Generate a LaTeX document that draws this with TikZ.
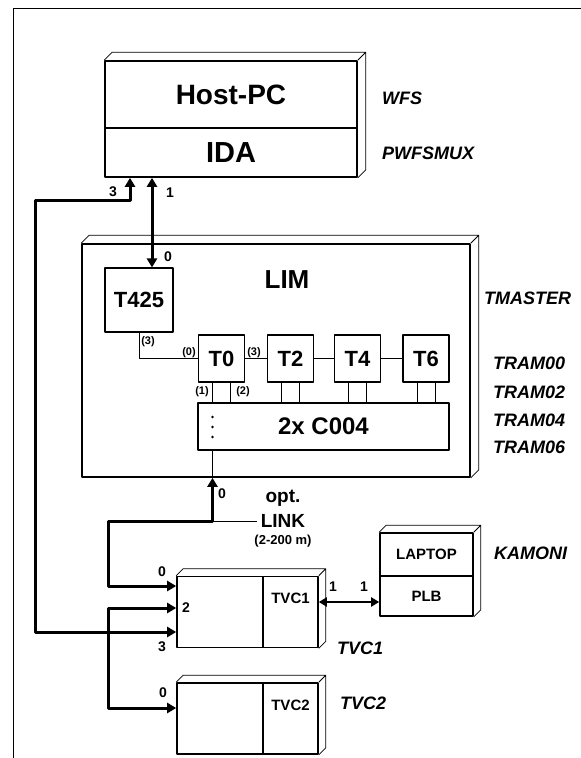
\documentclass[tikz,border=0pt]{standalone}
\usepackage{fontspec}
\setmainfont{Liberation Sans}
\usetikzlibrary{arrows.meta}

\begin{document}
\begin{tikzpicture}[x=1pt, y=-1pt, line join=round, font=\bfseries]
	\tikzset{
		box/.style={draw, line width=1.6pt, inner sep=0pt},
		unit/.style={draw, line width=1.1pt, inner sep=0pt},
		bevel/.style={line width=0.8pt},
		thinl/.style={line width=0.9pt},
		link/.style={line width=3pt, -{Triangle[length=9pt,width=10pt]}},
		both/.style={line width=3pt, {Triangle[length=9pt,width=10pt]}-{Triangle[length=9pt,width=10pt]}},
		tag/.style={font=\fontsize{18}{18}\selectfont\bfseries\itshape, anchor=west, inner sep=0pt},
		port/.style={font=\fontsize{14}{14}\selectfont\bfseries, inner sep=1pt},
		pin/.style={font=\fontsize{11}{11}\selectfont\bfseries, inner sep=1pt}
	}
	\useasboundingbox (0,0) rectangle (581,758);
	\draw [line width=0.8pt] (13,758)--(13,8)--(581,8);

	\node [box, minimum width=252pt, minimum height=67pt, font=\fontsize{28}{28}\selectfont\bfseries] (HPC) at (231,94.5) {Host-PC};
	\node [box, minimum width=252pt, minimum height=49pt, font=\fontsize{29}{29}\selectfont\bfseries] (IDA) at (231,152.5) {IDA};
	\node [box, minimum width=388pt, minimum height=233pt] (LIM) at (276,360.5) {};
	\node [font=\fontsize{26}{26}\selectfont\bfseries] (LIMt) at (287,280) {LIM};
	\node [unit, minimum width=68pt, minimum height=64pt, font=\fontsize{22}{22}\selectfont\bfseries] (T425) at (139,300) {T425};
	\foreach \x/\n in {221.5/0, 290.5/2, 357.5/4, 426/6}{
		\node [unit, minimum width=46pt, minimum height=47pt, font=\fontsize{22}{22}\selectfont\bfseries] (T\n) at (\x,358.5) {T\n};
	}
	\node [unit, minimum width=251pt, minimum height=47pt, font=\fontsize{24}{24}\selectfont\bfseries] (C004) at (323.5,426.5) {2x C004};
	\foreach \i/\y in {1/612, 2/718.5}{
		\node [box, minimum width=86pt, minimum height=71pt] (V\i) at (220,\y) {};
		\node [box, minimum width=55pt, minimum height=71pt] (R\i) at (290.5,\y) {};
		\node [font=\fontsize{15}{15}\selectfont\bfseries] (R\i t) at ([yshift=-23pt]R\i.north) {TVC\i};
	}
	\node [box, minimum width=93pt, minimum height=43pt, font=\fontsize{15}{15}\selectfont\bfseries] (LAP) at (426.5,554.5) {LAPTOP};
	\node [box, minimum width=93pt, minimum height=40pt, font=\fontsize{15}{15}\selectfont\bfseries] (PLB) at (426.5,596) {PLB};

	\foreach \a/\b/\c/\d in {HPC/HPC/IDA/8, LIM/LIM/LIM/8, LAP/LAP/PLB/7, V1/R1/R1/7, V2/R2/R2/7}{
		\draw [bevel] (\a.north west)--++(\d,-\d) -| ([shift={(\d,-\d)}]\c.south east)--(\c.south east)
			(\b.north east)--++(\d,-\d);
	}

	\path (35,200) coordinate (J)
		(108,632) coordinate (B)
		(212.5,521) coordinate (K)
		(108,521) coordinate (M);

	\draw [both] ([xshift=-101pt]IDA.south) |- (J) |- ([yshift=-20pt]V1.west);
	\draw [both] ([xshift=-79pt]IDA.south)--([xshift=13pt]T425.north);
	\draw [link] (B) |- ([yshift=4pt]V1.west);
	\draw [link] (B) |- ([yshift=10.5pt]V2.west);
	\draw [both] (K |- LIM.south)--(K)--(M) |- ([yshift=26pt]V1.west);
	\draw [line width=2.4pt, {Triangle[length=8pt,width=9pt]}-{Triangle[length=8pt,width=9pt]}] ([yshift=-6pt]PLB.west)--([yshift=-6pt]PLB.west -| R1.east);

	\draw [thinl] (T425.south) |- (T0.west);
	\foreach \a/\b in {T0/T2, T2/T4, T4/T6}{
		\draw [thinl] (\a)--(\b);
	}
	\foreach \t in {T0,T2,T4,T6}{
		\foreach \s in {-9pt,9pt}{
			\draw [thinl] ([xshift=\s]\t.south)--([xshift=\s]\t.south |- C004.north);
		}
	}
	\draw [thinl] (K |- C004.south)--(K |- LIM.south);
	\foreach \y in {417,427,437}{
		\fill (212.5,\y) circle (1.3pt);
	}

	\node [port] (p3) at (113,192) {3};
	\node [port] (p1) at (170,193) {1};
	\node [port] (p0) at (168,257) {0};
	\node [pin] (q3) at (148,342) {(3)};
	\node [pin] (q0) at (189,353) {(0)};
	\node [pin] (q3b) at (254,353) {(3)};
	\node [pin] (q1) at (202,392) {(1)};
	\node [pin] (q2) at (243,392) {(2)};
	\node [port] (k0) at (222,494) {0};
	\node [font=\fontsize{19}{19}\selectfont\bfseries] (opt) at (283,498) {opt.};
	\node [font=\fontsize{19}{19}\selectfont\bfseries] (LINK) at (283,521) {LINK};
	\node [font=\fontsize{13}{13}\selectfont\bfseries] (len) at (283,541) {(2-200 m)};
	\draw [thinl] (K)--(LINK.west);
	\node [port] (v0) at (162,572) {0};
	\node [port] (v2) at (186,608) {2};
	\node [port] (v3) at (162,647) {3};
	\node [port] (w0) at (163,693) {0};
	\node [port] (r1) at (333,587) {1};
	\node [port] (l1) at (364,587) {1};

	\node [tag] (WFS) at (382,98) {WFS};
	\node [tag] (MUX) at (382,153) {PWFSMUX};
	\node [tag] (TM) at (484,298) {TMASTER};
	\foreach \n/\y in {0/363, 2/392, 4/420, 6/447}{
		\node [tag] (TR\n) at (493,\y) {TRAM0\n};
	}
	\node [tag] (KAM) at (494,553) {KAMONI};
	\node [tag] (TV1) at (337,648) {TVC1};
	\node [tag] (TV2) at (340,703) {TVC2};
\end{tikzpicture}
\end{document}
